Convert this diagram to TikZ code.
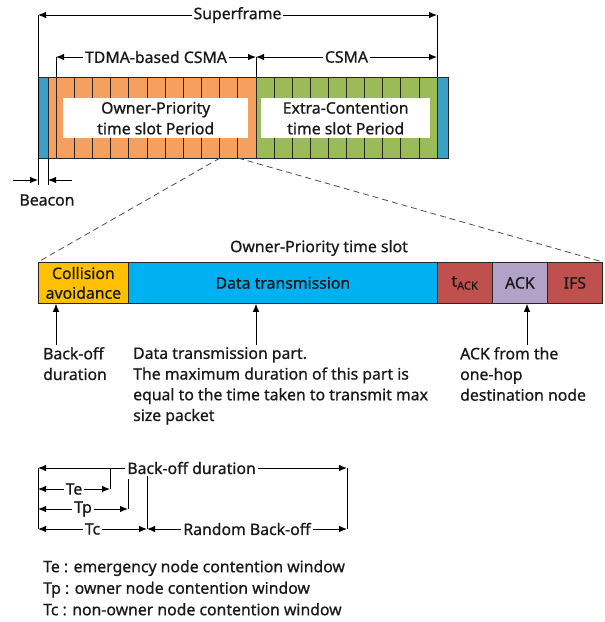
\documentclass[tikz,border=0pt]{standalone}
\usepackage{fontspec}
\setmainfont{Noto Sans}[BoldFont=Noto Sans, BoldFeatures={FakeBold=0.7}]
\usetikzlibrary{arrows.meta}
\definecolor{beaconc}{RGB}{59,160,196}
\definecolor{orngc}{RGB}{246,160,95}
\definecolor{grnc}{RGB}{155,187,89}
\definecolor{yelc}{RGB}{255,192,0}
\definecolor{dbluec}{RGB}{0,176,240}
\definecolor{ackredc}{RGB}{192,80,77}
\definecolor{ackpurc}{RGB}{179,162,199}
\definecolor{txtc}{RGB}{25,25,25}
\begin{document}
\begin{tikzpicture}[x=1pt,y=-1pt,
  txt/.style={font=\fontsize{15.8}{20.7}\selectfont\bfseries, text=txtc},
  lbl/.style={txt, fill=white, inner sep=2pt},
  dim/.style={line width=0.9pt, {Latex[length=8pt,width=6.5pt]}-{Latex[length=8pt,width=6.5pt]}},
  ptr/.style={line width=0.9pt, -{Latex[length=8pt,width=6.5pt]}},
  ln/.style={line width=0.9pt},
  cell/.style={draw=black!85, line width=0.8pt, inner sep=0pt, anchor=north west, txt, align=center},
  slotline/.style={line width=0.7pt, draw=black!85},
  wbox/.style={fill=white, inner sep=0pt, anchor=north west, txt, align=center, minimum height=40pt},
  dsh/.style={dash pattern=on 6pt off 4pt, line width=0.8pt, draw=black!70}]
\useasboundingbox (0,0) rectangle (605,622);

% ---------- superframe bar ----------
\node[cell, fill=beaconc, minimum width=10pt, minimum height=81pt] (b1) at (38,77) {};
\node[cell, fill=orngc, minimum width=208pt, minimum height=81pt] (opp) at (48,77) {};
\node[cell, fill=grnc, minimum width=181pt, minimum height=81pt] (ecp) at (256,77) {};
\node[cell, fill=beaconc, minimum width=11pt, minimum height=81pt] (b2) at (437,77) {};
\foreach \i in {0,...,10} \draw[slotline] ({56+18.18*\i},77) -- ++(0,81);
\foreach \i in {1,...,9} \draw[slotline] ({256+18.1*\i},77) -- ++(0,81);
\node[wbox, minimum width=185pt] (opt) at (63,98) {Owner-Priority\\time slot Period};
\node[wbox, minimum width=169pt] (ect) at (261,98) {Extra-Contention\\time slot Period};

% ---------- dimension lines (top) ----------
\coordinate (sfL) at (38,15);
\coordinate (sfR) at (437,15);
\coordinate (tdL) at (56,57);
\coordinate (tdR) at (256,57);
\coordinate (csR) at (437,57);
\draw[ln] (sfL) -- (38,185);
\draw[ln] (sfR) -- (b2.north west);
\draw[ln] (tdL) -- (56,77);
\draw[ln] (tdR) -- (256,77);
\draw[ln] (48,158) -- (48,185);
\draw[dim] (sfL) -- node[lbl] (sft) {Superframe} (sfR);
\draw[dim] (tdL) -- node[lbl] (tdt) {TDMA-based CSMA} (tdR);
\draw[dim] (tdR) -- node[lbl] (cst) {CSMA} (csR);

% beacon
\coordinate (bA) at (13,180);
\coordinate (bB) at (38,180);
\coordinate (bC) at (72,180);
\coordinate (bD) at (48,180);
\draw[ptr] (bA) -- (bB);
\draw[ptr] (bC) -- (bD);
\node[txt] (bct) at (47,200) {Beacon};

% ---------- time slot detail ----------
\node[cell, fill=yelc, minimum width=90pt, minimum height=41pt] (ca) at (38,262) {Collision\\[-1pt]avoidance};
\node[cell, fill=dbluec, minimum width=309pt, minimum height=41pt] (dt) at (128,262) {Data transmission};
\node[cell, fill=ackredc, minimum width=55pt, minimum height=41pt] (tack) at (437,262) {t\textsubscript{ACK}};
\node[cell, fill=ackpurc, minimum width=55pt, minimum height=41pt] (ack) at (492,262) {ACK};
\node[cell, fill=ackredc, minimum width=55pt, minimum height=41pt] (ifs) at (547,262) {IFS};
\node[txt] (opts) at (319,248) {Owner-Priority time slot};

\coordinate (zL) at (220,158);
\coordinate (zR) at (238,158);
\draw[dsh] (zL) -- (ca.north west);
\draw[dsh] (zR) -- (ifs.north east);

\coordinate (p1) at (56,345);
\coordinate (p2) at (256,345);
\coordinate (p3) at (527,345);
\draw[ptr] (p1) -- (p1 |- ca.south);
\draw[ptr] (p2) -- (p2 |- dt.south);
\draw[ptr] (p3) -- (p3 |- ack.south);

\node[txt, anchor=north west, align=left, inner sep=0pt] (bol) at (43,347) {Back-off\\duration};
\node[txt, anchor=north west, align=left, inner sep=0pt] (dtl) at (133,347) {Data transmission part.\\The maximum duration of this part is\\equal to the time taken to transmit max\\size packet};
\node[txt, anchor=north west, align=left, inner sep=0pt] (ackl) at (460,347) {ACK from the\\one-hop\\destination node};

% ---------- back-off detail ----------
\coordinate (k0) at (38,468);
\coordinate (k1) at (347,468);
\coordinate (te) at (110,489);
\coordinate (tp) at (128,509);
\coordinate (tc) at (147,529);
\coordinate (rb) at (347,529);
\draw[ln] (k0) -- (38,529);
\draw[ln] (k1) -- (rb);
\draw[ln] (110,468) -- (te);
\draw[ln] (128,479) -- (tp);
\draw[ln] (147,468) -- (tc);
\draw[dim] (k0) -- node[lbl, pos=0.497] (bdt) {Back-off duration} (k1);
\draw[dim] (38,489) -- node[lbl] (tet) {Te} (te);
\draw[dim] (38,509) -- node[lbl] (tpt) {Tp} (tp);
\draw[dim] (38,529) -- node[lbl] (tct) {Tc} (tc);
\draw[dim] (tc) -- node[lbl] (rbt) {Random Back-off} (rb);

\node[txt, font=\fontsize{15.8}{21.5}\selectfont\bfseries, anchor=north west, align=left, inner sep=0pt] (leg) at (43,560) {Te : emergency node contention window\\Tp : owner node contention window\\Tc : non-owner node contention window};
\end{tikzpicture}
\end{document}
